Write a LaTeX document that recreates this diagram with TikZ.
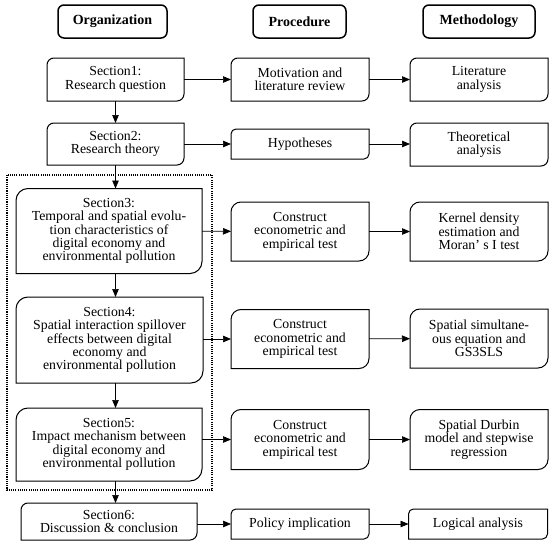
\documentclass[tikz,border=0pt]{standalone}
\usepackage{fontspec}
\setmainfont{Liberation Serif}
\usetikzlibrary{calc,arrows.meta}
\tikzset{
  x=1pt, y=-1pt,
  txt/.style={draw=none, inner sep=0pt, outer sep=0pt, align=center,
    font=\fontsize{13.8}{13.4}\selectfont},
  hdr/.style={draw, line width=1.5pt, rounded corners=6pt, inner sep=0pt,
    outer sep=0pt, minimum height=33pt, font=\fontsize{14}{16}\selectfont\bfseries},
  boxline/.style={line width=1pt},
  arr/.style={line width=0.7pt, -{Triangle[length=8pt,width=6.5pt]}},
  dotbox/.style={line width=1.2pt, dash pattern=on 1.1pt off 1.1pt}
}
\newcommand\rcbox[2]{\draw[boxline] ($(#1.north west)+(0,-#2)$) arc[start angle=180,end angle=90,radius=#2] -- (#1.north east) -- ($(#1.south east)+(0,#2)$) arc[start angle=0,end angle=-90,radius=#2] -- (#1.south west) -- cycle;}
\begin{document}
\begin{tikzpicture}
\useasboundingbox (0,0) rectangle (550,549);
% headers
\node[hdr, minimum width=109pt] (h1) at (112.5,21.5) {Organization};
\node[hdr, minimum width=93pt] (h2) at (299.5,21.5) {Procedure};
\node[hdr, minimum width=112pt] (h3) at (479,21.5) {Methodology};
% left column
\node[txt, minimum width=137pt, minimum height=43pt] (s1) at (115.5,79.5) {Section1:\\Research question};
\node[txt, minimum width=137pt, minimum height=42pt] (s2) at (115.5,144) {Section2:\\Research theory};
\node[txt, minimum width=186pt, minimum height=85pt] (s3) at (109,231) {Section3:\\Temporal and spatial evolu-\\tion characteristics of\\digital economy and\\environmental pollution};
\node[txt, minimum width=187pt, minimum height=86pt] (s4) at (109.5,340) {Section4:\\Spatial interaction spillover\\effects between digital\\economy and\\environmental pollution};
\node[txt, minimum width=186pt, minimum height=73pt] (s5) at (109,444.5) {Section5:\\Impact mechanism between\\digital economy and\\environmental pollution};
\node[txt, minimum width=176pt, minimum height=37pt] (s6) at (109,521.5) {Section6:\\Discussion \& conclusion};
% middle column
\node[txt, minimum width=138pt, minimum height=43pt] (p1) at (300,79.5) {Motivation and\\literature review};
\node[txt, minimum width=138pt, minimum height=30pt] (p2) at (300,144) {Hypotheses};
\node[txt, minimum width=138pt, minimum height=59pt] (p3) at (300,231.5) {Construct\\econometric and\\empirical test};
\node[txt, minimum width=138pt, minimum height=59pt] (p4) at (300,339) {Construct\\econometric and\\empirical test};
\node[txt, minimum width=138pt, minimum height=60pt] (p5) at (300,439.5) {Construct\\econometric and\\empirical test};
\node[txt, minimum width=138pt, minimum height=30pt] (p6) at (300,524) {Policy implication};
% right column
\node[txt, minimum width=138pt, minimum height=43pt] (m1) at (479,79.5) {Literature\\analysis};
\node[txt, minimum width=138pt, minimum height=43pt] (m2) at (479,144.5) {Theoretical\\analysis};
\node[txt, minimum width=138pt, minimum height=59pt] (m3) at (479,231.5) {Kernel density\\estimation and\\Moran’ s I test};
\node[txt, minimum width=138pt, minimum height=59pt] (m4) at (479,338.5) {Spatial simultane-\\ous equation and\\GS3SLS};
\node[txt, minimum width=138pt, minimum height=60pt] (m5) at (479,439.5) {Spatial Durbin\\model and stepwise\\regression};
\node[txt, minimum width=139pt, minimum height=30pt] (m6) at (478,524) {Logical analysis};
% box outlines
\rcbox{s1}{7pt}
\rcbox{s2}{7pt}
\rcbox{s3}{12pt}
\rcbox{s4}{12pt}
\rcbox{s5}{12pt}
\rcbox{s6}{7pt}
\rcbox{p1}{7pt}
\rcbox{p2}{5pt}
\rcbox{p3}{10pt}
\rcbox{p4}{10pt}
\rcbox{p5}{10pt}
\rcbox{p6}{5pt}
\rcbox{m1}{7pt}
\rcbox{m2}{7pt}
\rcbox{m3}{10pt}
\rcbox{m4}{10pt}
\rcbox{m5}{10pt}
\rcbox{m6}{5pt}
% dotted frame
\coordinate (fa) at (7,175);
\coordinate (fb) at (212,490);
\draw[dotbox] (fa) rectangle (fb);
% vertical arrows
\draw[arr] (s1.south) -- (s2.north);
\draw[arr] (s2.south) -- (s3.north -| s2.south);
\draw[arr] (s3.south -| s2.south) -- (s4.north -| s2.south);
\draw[arr] (s4.south -| s2.south) -- (s5.north -| s2.south);
\draw[arr] (s5.south -| s2.south) -- (s6.north -| s2.south);
% horizontal arrows
\draw[arr] (s1) -- (p1);
\draw[arr] (p1) -- (m1);
\draw[arr] (s2) -- (p2);
\draw[arr] (p2.east) -- (m2.west |- p2.east);
\draw[arr] (s3) -- (p3);
\draw[arr] (p3) -- (m3);
\draw[arr] (s4.east |- p4.west) -- (p4.west);
\draw[arr] (p4) -- (m4);
\draw[arr] (s5.east |- p5.west) -- (p5.west);
\draw[arr] (p5) -- (m5);
\draw[arr] (s6.east |- p6.west) -- (p6.west);
\draw[arr] (p6) -- (m6);
\end{tikzpicture}
\end{document}
